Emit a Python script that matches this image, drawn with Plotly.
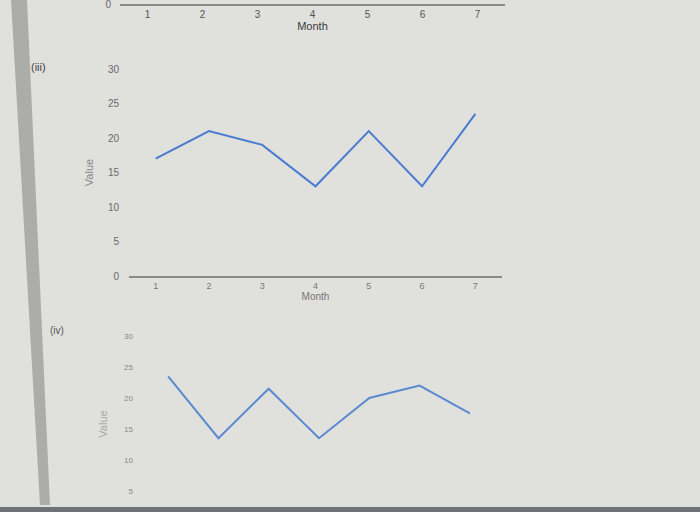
import plotly.graph_objects as go

# values
months = [1, 2, 3, 4, 5, 6, 7]
values_iii = [17, 21, 19, 13, 21, 13, 23.5]
values_iv = [23.5, 13.5, 21.5, 13.5, 20, 22, 17.5]
y_ticks = [0, 5, 10, 15, 20, 25, 30]
panel_labels = ['(iii)', '(iv)']

W, H = 700, 512


def px(x):
    return x / W


def py(y):
    return 1 - y / H


tick_font = dict(family='Liberation Sans', size=10, color='#6a6a6a')
title_font = dict(family='Liberation Sans', size=11, color='#3a3a3a')

fig = go.Figure()

# cut-off panel at the very top: only its month axis is visible
fig.add_trace(go.Scatter(x=[None], y=[None], xaxis='x3', yaxis='y3',
                         showlegend=False, hoverinfo='skip'))

# panel (iii)
fig.add_trace(go.Scatter(
    x=months, y=values_iii, mode='lines', xaxis='x', yaxis='y',
    line=dict(color='#4a7bd0', width=2), showlegend=False
))

# panel (iv), bottom cut off by the photo
fig.add_trace(go.Scatter(
    x=months, y=values_iv, mode='lines', xaxis='x2', yaxis='y2',
    line=dict(color='#5b8ad0', width=2), showlegend=False
))

fig.update_layout(
    width=W, height=H,
    margin=dict(l=0, r=0, t=0, b=0, pad=0),
    paper_bgcolor='#e0e0dd',
    plot_bgcolor='rgba(0,0,0,0)',
    font=dict(family='Liberation Sans'),
    # top (partial) panel
    xaxis3=dict(domain=[px(120), px(505)], range=[0.5, 7.5], anchor='y3',
                tickvals=months, showgrid=False, zeroline=False, automargin=False,
                showline=True, linecolor='#8a8a8a', linewidth=1.5,
                tickfont=dict(family='Liberation Sans', size=10, color='#555'),
                title=dict(text='Month', font=title_font, standoff=3)),
    yaxis3=dict(domain=[py(4), 1], range=[0, 1], anchor='x3', automargin=False,
                tickvals=[0], showgrid=False, zeroline=False, showline=False,
                tickfont=tick_font, ticklabelstandoff=8, ticklabeloverflow='allow'),
    # panel (iii)
    xaxis=dict(domain=[px(129), px(502)], range=[0.5, 7.5], anchor='y',
               tickvals=months, showgrid=False, zeroline=False, automargin=False,
               showline=True, linecolor='#8a8a8a', linewidth=1.5,
               tickfont=dict(family='Liberation Sans', size=9, color='#777'),
               title=dict(text='Month', font=dict(family='Liberation Sans', size=10,
                                                  color='#777'), standoff=0)),
    yaxis=dict(domain=[py(276), py(69)], range=[0, 30], anchor='x', automargin=False,
               tickvals=y_ticks, showgrid=False, zeroline=False, showline=False,
               tickfont=tick_font, ticklabelstandoff=9,
               title=dict(text='Value', font=dict(family='Liberation Sans', size=11,
                                                  color='#888'), standoff=12)),
    # panel (iv)
    xaxis2=dict(domain=[px(143), px(495)], range=[0.5, 7.5], anchor='y2',
                visible=False, automargin=False),
    yaxis2=dict(domain=[0, py(336)], range=[1.6, 30], anchor='x2', automargin=False,
                tickvals=y_ticks[1:], showgrid=False, zeroline=False, showline=False,
                tickfont=dict(family='Liberation Sans', size=8, color='#888'),
                ticklabelstandoff=9,
                title=dict(text='Value', font=dict(family='Liberation Sans', size=11,
                                                   color='#aaa'), standoff=14)),
    shapes=[
        # monitor bezel strip on the left edge
        dict(type='path', xref='paper', yref='paper',
             path=f'M {px(11)},1 L {px(27)},1 L {px(50)},{py(505)} L {px(40)},{py(505)} Z',
             fillcolor='#acaca9', line=dict(width=0), layer='below'),
        # bezel at the bottom
        dict(type='rect', xref='paper', yref='paper',
             x0=0, x1=1, y0=0, y1=py(507),
             fillcolor='#6f7378', line=dict(width=0)),
    ],
    annotations=[
        dict(text=panel_labels[0], xref='paper', yref='paper', x=px(38), y=py(67),
             xanchor='center', yanchor='middle', showarrow=False,
             font=dict(family='Liberation Sans', size=11, color='#444')),
        dict(text=panel_labels[1], xref='paper', yref='paper', x=px(57), y=py(330),
             xanchor='center', yanchor='middle', showarrow=False,
             font=dict(family='Liberation Sans', size=10, color='#555')),
    ],
)

# drop the browser's default page margin so the figure fills the window
fig.write_html('out.html', config={'displayModeBar': False},
               post_script="document.body.style.margin='0';")
